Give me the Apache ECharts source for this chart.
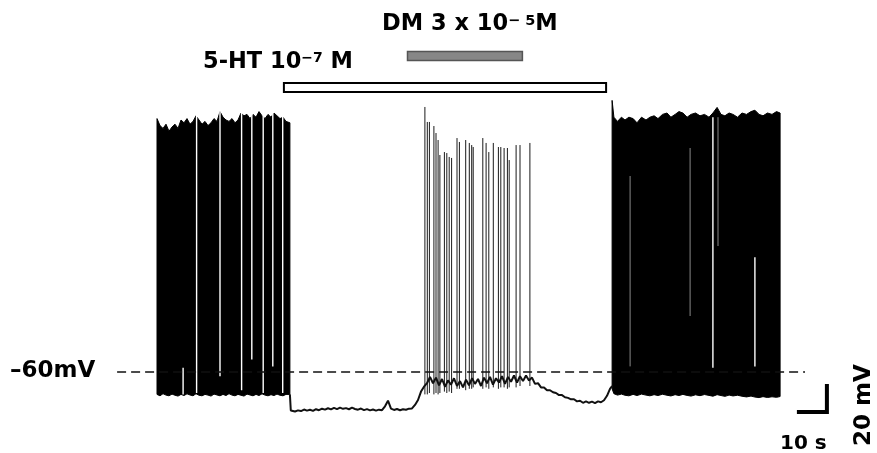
<!DOCTYPE html>
<html><head><meta charset="utf-8">
<script src="https://cdn.jsdelivr.net/npm/echarts@6/dist/echarts.min.js"></script>
<style>html,body{margin:0;padding:0;background:#fff}#c{width:877px;height:453px}</style>
</head><body><div id="c"></div>
<script>
// ---------------- data (time in s, membrane potential in mV) ----------------
const treatmentLabels = ['5-HT 10⁻⁷ M', 'DM 3 x 10⁻⁵M'];
const treatmentStart = [42.3, 83.5];
const treatmentEnd = [149.7, 121.8];

const restingLevel = -60;           // dashed reference line
const dashedFrom = -13.3, dashedTo = 216;
const scaleBarSeconds = 10, scaleBarMV = 20;
const scaleBarCornerT = 223.3, scaleBarCornerV = -88.6;

// dense firing before 5-HT (envelope of spike peaks / troughs)
const blockA_t   = [0, 1, 2, 3, 4, 5, 6, 7, 8, 9, 10, 11, 12, 13, 14, 15, 16, 17, 18, 19, 20, 21, 22, 23, 24, 25, 26, 27, 28, 29, 30, 31, 32, 33, 34, 35, 36, 37, 38, 39, 40, 41, 42, 43, 44.3];
const blockA_top = [121, 116, 114, 117, 112, 115, 117, 114, 120, 118, 121, 117, 119, 123, 120, 117, 119, 116, 118, 121, 119, 126, 122, 120, 119, 121, 118, 120, 125, 123, 124, 121, 124, 122, 126, 123, 121, 124, 122, 125, 123, 121, 122, 119, 118];
const blockA_bot = [-76, -77, -75.5, -76.5, -77, -75.8, -76.6, -77.2, -76, -76.8, -75.6, -76.4, -77, -75.5, -76.6, -77, -76, -76.5, -77.2, -75.8, -76.4, -77, -76, -76.8, -75.5, -76.5, -77, -76, -76.6, -77.2, -75.8, -76.4, -77, -76, -76.8, -75.6, -76.5, -77, -76.2, -76.8, -75.8, -76.6, -77, -76, -76];
const gapsA_t   = [8.7, 13.2, 21.0, 28.2, 31.6, 35.4, 38.6, 41.9];
const gapsA_top = [-57, 135, 135, 135, 135, 135, 135, 135];
const gapsA_bot = [-76, -75, -63, -73, -51, -75, -56, -75];

// recording during 5-HT (hyperpolarisation) and DM (depolarisation + spikes)
const mid_t = [44.3, 44.6, 45, 46, 47, 48, 49, 50, 51, 52, 53, 54, 55, 56, 57, 58, 59, 60,
  61, 62, 63, 64, 65, 66, 67, 68, 69, 70, 71, 72, 73, 74, 75, 76, 77, 78, 79, 80,
  81, 82, 83, 84, 85, 86, 87, 88, 89, 90, 91, 92, 93, 94, 95, 96, 97, 98, 99, 100,
  101, 102, 103, 104, 105, 106, 107, 108, 109, 110, 111, 112, 113, 114, 115, 116, 117, 118, 119, 120,
  121, 122, 123, 124, 125, 126, 127, 128, 129, 130, 131, 132, 133, 134, 135, 136, 137, 138, 139, 140,
  141, 142, 143, 144, 145, 146, 147, 148, 149, 150, 151, 151.7];
const mid_v = [-76, -87.5, -88, -88.2, -87.4, -87.9, -86.8, -87.6, -87.0, -87.8, -86.6, -87.3, -86.2, -86.9, -85.9, -86.7, -85.6, -86.5,
  -85.4, -86.3, -85.8, -86.6, -85.5, -86.4, -86.9, -86.1, -87.2, -86.5, -87.4, -86.8, -87.6, -86.9, -87.3, -84.5, -80.5, -86.2, -87.1, -86.4,
  -87.3, -86.6, -87.0, -86.2, -86.0, -83.5, -80.0, -74.0, -70.5, -68.0, -63.5, -68.0, -64.0, -69.5, -65.0, -70.5, -66.0, -69.0, -64.5, -70.0,
  -66.5, -71.0, -65.5, -69.5, -64.5, -68.5, -65.0, -70.0, -64.0, -68.0, -63.5, -69.0, -64.5, -67.5, -63.0, -68.5, -63.5, -67.0, -62.5, -67.5,
  -63.0, -66.5, -62.5, -66.0, -64.0, -68.5, -68.0, -71.0, -71.0, -73.0, -73.0, -74.5, -75.0, -76.5, -76.5, -78.0, -78.5, -79.5, -79.5, -81.0,
  -80.5, -82.0, -81.0, -82.0, -81.2, -82.2, -81.0, -81.6, -80.2, -77.0, -72.0, -70.0];

// action potentials fired during DM
const spike_t    = [89.3, 90.1, 90.8, 92.3, 93.0, 93.7, 94.3, 95.8, 96.6, 97.4, 98.2, 100.0, 100.8, 102.9, 104.1, 104.9, 105.4, 108.6, 109.7, 110.6, 112.1, 113.8, 114.6, 115.7, 116.8, 117.4, 119.7, 121.0, 124.3];
const spike_peak = [129.3, 118.6, 118.6, 115.7, 110.7, 105.7, 95.0, 97.1, 96.4, 93.6, 92.9, 107.1, 104.3, 105.7, 103.6, 102.1, 100.7, 107.1, 103.6, 97.1, 103.6, 100.7, 100.7, 100.0, 100.0, 91.4, 102.1, 102.1, 103.6];
const spike_ahp  = [-76, -76, -75, -76, -75, -76, -75, -74, -75, -74, -75, -72, -72, -73, -72, -72, -71, -72, -71, -72, -71, -72, -71, -71, -72, -71, -71, -70, -70];

// dense firing after wash-out
const blockC_t   = [151.7, 152.3, 153.5, 154.8, 156, 157.3, 158.7, 160, 161.5, 163, 164.3, 165.7, 167, 168.5, 170, 171.3, 172.7, 174, 175.3, 176.7, 178, 179.5, 181, 182.5, 184, 185.3, 186.7, 188, 189.3, 190.7, 192, 193.5, 195, 196.5, 198, 199.3, 200.7, 202, 203.5, 205, 206.5, 207.7];
const blockC_top = [134, 122, 119, 122, 120, 122, 121, 118, 122, 120, 122, 123, 121, 124, 125, 122, 124, 126, 125, 122, 124, 125, 123, 124, 122, 125, 129, 124, 123, 125, 124, 122, 125, 124, 126, 127, 124, 123, 125, 124, 126, 125];
const blockC_bot = [-72, -75.5, -76.5, -75.8, -76.6, -77, -76, -76.8, -75.8, -76.5, -77, -76.2, -76.8, -75.9, -76.6, -77.1, -76.2, -76.8, -76, -76.7, -77.2, -76.3, -76.9, -76.1, -76.7, -77.3, -76.2, -76.8, -77.4, -76.5, -77.1, -76.6, -77.3, -77.8, -77.2, -77.9, -78.3, -77.6, -78.2, -77.7, -78.1, -77.5];
const gapsC_t   = [185.3, 199.3];
const gapsC_top = [122, 22];
const gapsC_bot = [-57, -56];
const faintC_t   = [157.7, 177.7, 187.0];
const faintC_top = [80, 100, 122];
const faintC_bot = [-56, -20, 30];

// ---------------- chart ----------------
const FONT = '"DejaVu Sans", "Liberation Sans", Arial, sans-serif';

function band(ts, tops, bots) {
  return {
    type: 'custom', coordinateSystem: 'cartesian2d', silent: true, z: 2,
    data: [[ts[0], bots[0]]],
    renderItem: function (p, api) {
      const pts = [];
      for (let i = 0; i < ts.length; i++) pts.push(api.coord([ts[i], tops[i]]));
      for (let i = ts.length - 1; i >= 0; i--) pts.push(api.coord([ts[i], bots[i]]));
      return { type: 'polygon', shape: { points: pts }, style: { fill: '#000', stroke: '#000', lineWidth: 1 } };
    }
  };
}
function vlines(ts, tops, bots, color, width, z) {
  return {
    type: 'custom', coordinateSystem: 'cartesian2d', silent: true, z: z,
    data: ts.map((t, i) => [t, tops[i], bots[i]]),
    encode: { x: 0, y: [1, 2] },
    renderItem: function (p, api) {
      const a = api.coord([api.value(0), api.value(1)]);
      const b = api.coord([api.value(0), api.value(2)]);
      return { type: 'line', shape: { x1: a[0], y1: a[1], x2: b[0], y2: b[1] }, style: { stroke: color, lineWidth: width } };
    }
  };
}

const barStyle = [
  { top: 83, h: 9, fill: '#fff', stroke: '#000', lw: 2 },
  { top: 51.5, h: 9, fill: '#878787', stroke: '#555', lw: 1.5 }
];

const chart = echarts.init(document.getElementById('c'), null, { renderer: 'canvas' });
chart.setOption({
  animation: false,
  backgroundColor: '#fff',
  grid: { left: 37, right: 0, top: 8, bottom: 11 },
  xAxis: { type: 'value', min: -40, max: 240, show: false },
  yAxis: { type: 'value', min: -110, max: 200, show: false },
  series: [
    band(blockA_t, blockA_top, blockA_bot),
    band(blockC_t, blockC_top, blockC_bot),
    vlines(gapsA_t, gapsA_top, gapsA_bot, '#fff', 1.4, 3),
    vlines(gapsC_t, gapsC_top, gapsC_bot, '#fff', 1.4, 3),
    vlines(faintC_t, faintC_top, faintC_bot, '#888', 1, 3),
    {
      type: 'line', data: mid_t.map((t, i) => [t, mid_v[i]]), showSymbol: false, silent: true, z: 4,
      lineStyle: { color: '#111', width: 2 }
    },
    vlines(spike_t, spike_peak, spike_ahp, '#1a1a1a', 1, 4),
    {
      type: 'line', data: [[dashedFrom, restingLevel], [dashedTo, restingLevel]], showSymbol: false, silent: true, z: 6,
      lineStyle: { color: '#111', width: 1.5, type: [9, 5] }
    },
    {
      type: 'line', showSymbol: false, silent: true, z: 6,
      data: [[scaleBarCornerT - scaleBarSeconds, scaleBarCornerV], [scaleBarCornerT, scaleBarCornerV], [scaleBarCornerT, scaleBarCornerV + scaleBarMV]],
      lineStyle: { color: '#000', width: 4, cap: 'butt', join: 'miter' }
    },
    {
      type: 'custom', coordinateSystem: 'cartesian2d', silent: true, z: 7,
      data: treatmentStart.map((s, i) => [s, treatmentEnd[i]]),
      renderItem: function (p, api) {
        const x1 = api.coord([api.value(0), 0])[0];
        const x2 = api.coord([api.value(1), 0])[0];
        const st = barStyle[p.dataIndex];
        return { type: 'rect', shape: { x: x1, y: st.top, width: x2 - x1, height: st.h },
          style: { fill: st.fill, stroke: st.stroke, lineWidth: st.lw } };
      }
    }
  ],
  graphic: [
    { type: 'text', left: 10, top: 360, style: { text: '–60mV', font: 'bold 23px ' + FONT, fill: '#000' } },
    { type: 'text', left: 203, top: 51, style: {
        text: '{b|5-HT 10}{s|−7}{b| M}',
        rich: { b: { fontSize: 22.5, fontWeight: 'bold', fontFamily: FONT, fill: '#000', lineHeight: 22 },
                s: { fontSize: 14, fontWeight: 'bold', fontFamily: FONT, fill: '#000', lineHeight: 14, verticalAlign: 'top' } } } },
    { type: 'text', left: 382, top: 13, style: {
        text: '{b|DM 3 x 10}{s|− 5}{b|M}',
        rich: { b: { fontSize: 22.5, fontWeight: 'bold', fontFamily: FONT, fill: '#000', lineHeight: 22 },
                s: { fontSize: 14.5, fontWeight: 'bold', fontFamily: FONT, fill: '#000', lineHeight: 14, verticalAlign: 'top' } } } },
    { type: 'text', left: 780, top: 434, style: { text: '10 s', font: 'bold 20px ' + FONT, fill: '#000' } },
    { type: 'text', x: 864, y: 405, rotation: Math.PI / 2,
      style: { text: '20 mV', font: 'bold 23px ' + FONT, fill: '#000', textAlign: 'center', textVerticalAlign: 'middle' } }
  ]
});
</script>
</body></html>
